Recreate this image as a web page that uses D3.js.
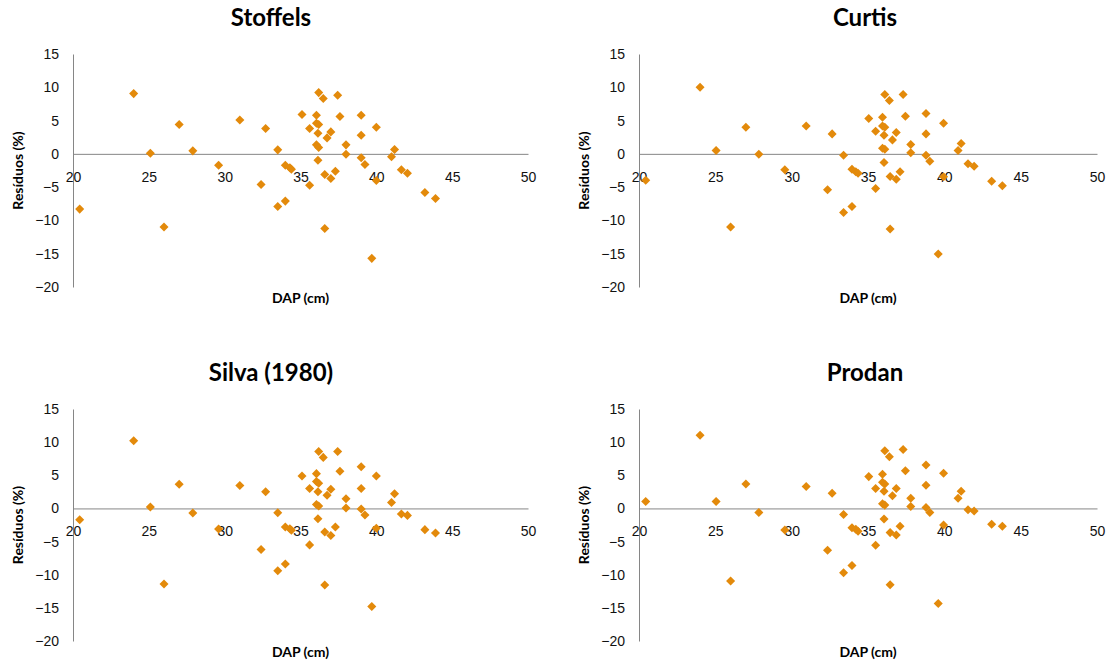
<!DOCTYPE html>
<html>
<head>
<meta charset="utf-8">
<script src="https://cdn.jsdelivr.net/npm/d3@7"></script>
<style>
  body { margin: 0; background: #fff; }
  svg { display: block; font-family: Lato, "Open Sans", sans-serif; }
</style>
</head>
<body>
<div class="container"></div>
<script>
// residuals (%) against DAP (cm)
const stoffelsDap = [20.44, 24.0, 25.1, 26.0, 27.0, 27.9, 29.6, 31.0, 32.4, 32.7, 33.5, 33.5, 34.0, 34.0, 34.3, 34.4, 35.1, 35.6, 35.6, 36.05, 36.05, 36.05, 36.15, 36.15, 36.2, 36.2, 36.2, 36.5, 36.6, 36.6, 36.75, 37.0, 37.0, 37.3, 37.45, 37.6, 38.0, 38.0, 39.0, 39.0, 39.0, 39.25, 39.7, 40.0, 40.0, 41.0, 41.2, 41.65, 42.05, 43.2, 43.9];
const stoffelsRes = [-8.3, 9.05, 0.1, -11.0, 4.4, 0.45, -1.7, 5.1, -4.6, 3.8, 0.6, -7.9, -1.7, -7.1, -2.1, -2.3, 5.9, 3.8, -4.7, 5.8, 4.6, 1.35, 3.1, -0.95, 4.4, 0.95, 9.2, 8.3, -3.1, -11.2, 2.4, 3.3, -3.7, -2.6, 8.8, 5.6, 1.35, -0.05, 5.8, 2.8, -0.6, -1.6, -15.7, 4.0, -4.0, -0.45, 0.65, -2.4, -2.9, -5.8, -6.7];

const curtisDap = [20.44, 24.0, 25.05, 26.0, 27.0, 27.85, 29.55, 30.95, 32.35, 32.65, 33.4, 33.4, 33.95, 33.95, 34.2, 34.35, 35.05, 35.5, 35.5, 35.95, 35.95, 36.1, 36.05, 35.95, 36.1, 36.05, 36.1, 36.4, 36.45, 36.45, 36.6, 36.85, 36.85, 37.1, 37.3, 37.45, 37.8, 37.8, 38.8, 38.8, 38.8, 39.05, 39.6, 39.95, 39.95, 40.9, 41.1, 41.55, 41.95, 43.1, 43.8];
const curtisRes = [-3.95, 10.0, 0.5, -11.0, 4.0, -0.05, -2.4, 4.2, -5.4, 3.0, -0.2, -8.8, -2.3, -7.9, -2.7, -2.9, 5.3, 3.4, -5.2, 5.5, 4.2, 4.0, 2.8, 0.85, 0.7, -1.3, 8.9, 8.0, -3.4, -11.3, 2.1, 3.2, -3.8, -2.7, 8.9, 5.65, 1.4, 0.15, 6.05, 3.0, -0.2, -1.1, -15.05, 4.6, -3.45, 0.5, 1.55, -1.5, -1.85, -4.1, -4.8];

const silvaDap = [20.44, 24.0, 25.1, 26.0, 27.0, 27.9, 29.6, 31.0, 32.4, 32.7, 33.5, 33.5, 34.0, 34.0, 34.3, 34.4, 35.1, 35.6, 35.6, 36.05, 36.05, 36.2, 36.15, 36.05, 36.2, 36.15, 36.2, 36.5, 36.6, 36.6, 36.75, 37.0, 37.0, 37.3, 37.45, 37.6, 38.0, 38.0, 39.0, 39.0, 39.0, 39.25, 39.7, 40.0, 40.0, 41.0, 41.2, 41.65, 42.05, 43.2, 43.9];
const silvaRes = [-1.7, 10.2, 0.2, -11.4, 3.65, -0.7, -3.1, 3.45, -6.2, 2.5, -0.65, -9.4, -2.8, -8.4, -3.05, -3.3, 4.9, 3.0, -5.5, 5.25, 4.05, 3.8, 2.5, 0.6, 0.35, -1.55, 8.6, 7.7, -3.55, -11.55, 2.0, 2.9, -4.1, -2.8, 8.6, 5.6, 1.45, 0.05, 6.3, 3.0, -0.1, -1.0, -14.8, 4.9, -3.0, 0.9, 2.2, -0.85, -1.05, -3.2, -3.7];

const prodanDap = [20.44, 24.0, 25.05, 26.0, 27.0, 27.85, 29.55, 30.95, 32.35, 32.65, 33.4, 33.4, 33.95, 33.95, 34.2, 34.35, 35.05, 35.5, 35.5, 35.95, 35.95, 36.1, 36.05, 35.95, 36.1, 36.05, 36.1, 36.4, 36.45, 36.45, 36.6, 36.85, 36.85, 37.1, 37.3, 37.45, 37.8, 37.8, 38.8, 38.8, 38.8, 39.05, 39.6, 39.95, 39.95, 40.9, 41.1, 41.55, 41.95, 43.1, 43.8];
const prodanRes = [1.05, 11.05, 1.05, -10.95, 3.7, -0.6, -3.25, 3.3, -6.3, 2.3, -0.9, -9.7, -2.9, -8.6, -3.15, -3.45, 4.8, 3.0, -5.55, 5.15, 3.95, 3.7, 2.6, 0.7, 0.5, -1.6, 8.7, 7.8, -3.65, -11.5, 1.9, 3.0, -4.0, -2.7, 8.9, 5.7, 1.55, 0.3, 6.55, 3.5, 0.15, -0.6, -14.35, 5.3, -2.5, 1.55, 2.6, -0.2, -0.4, -2.4, -2.7];

const titles = ["Stoffels", "Curtis", "Silva (1980)", "Prodan"];
const xTicks = [20, 25, 30, 35, 40, 45, 50];
const yTicks = [15, 10, 5, 0, -5, -10, -15, -20];

const panels = [
  { title: titles[0], dap: stoffelsDap, res: stoffelsRes, left: 73, right: 528, top: 54, bottom: 287, cx: 271 },
  { title: titles[1], dap: curtisDap, res: curtisRes, left: 639, right: 1097, top: 54, bottom: 287, cx: 865 },
  { title: titles[2], dap: silvaDap, res: silvaRes, left: 73, right: 528, top: 409, bottom: 641, cx: 271 },
  { title: titles[3], dap: prodanDap, res: prodanRes, left: 639, right: 1097, top: 409, bottom: 641, cx: 865 }
];

const svg = d3.select('.container')
  .append('svg')
  .attr('width', 1109)
  .attr('height', 662);

const diamond = d3.symbol().type(d3.symbolDiamond2).size(52);

panels.forEach(p => {
  const x = d3.scaleLinear().domain([20, 50]).range([p.left, p.right]);
  const y = d3.scaleLinear().domain([-20, 15]).range([p.bottom, p.top]);

  const g = svg.append('g');

  // title
  g.append('text')
    .attr('x', p.cx)
    .attr('y', p.top - 28)
    .attr('text-anchor', 'middle')
    .style('font-size', '24px')
    .style('font-weight', 'bold')
    .text(p.title);

  // y axis
  const yAxis = g.append('g')
    .attr('transform', `translate(${p.left},0)`)
    .call(d3.axisLeft(y).tickValues(yTicks).tickSize(0).tickPadding(14));
  yAxis.select('.domain').attr('stroke', '#868686');
  yAxis.selectAll('text').style('font-size', '14px').attr('fill', '#111');

  // x axis sits on zero
  const xAxis = g.append('g')
    .attr('transform', `translate(0,${y(0)})`)
    .call(d3.axisBottom(x).tickValues(xTicks).tickSize(0).tickPadding(18));
  xAxis.select('.domain').attr('stroke', '#868686');
  xAxis.selectAll('text').style('font-size', '14px').attr('fill', '#111');

  // axis titles
  g.append('text')
    .attr('x', (p.left + p.right) / 2)
    .attr('y', p.bottom + 16)
    .attr('text-anchor', 'middle')
    .style('font-size', '14px')
    .style('font-weight', 'bold')
    .text('DAP (cm)');

  g.append('text')
    .attr('transform', `translate(${p.left - 50},${(p.top + p.bottom) / 2}) rotate(-90)`)
    .attr('text-anchor', 'middle')
    .style('font-size', '14px')
    .style('font-weight', 'bold')
    .text('Resíduos (%)');

  // points
  g.selectAll('path.pt')
    .data(p.dap.map((d, i) => [d, p.res[i]]))
    .enter()
    .append('path')
    .attr('class', 'pt')
    .attr('d', diamond)
    .attr('transform', d => `translate(${x(d[0])},${y(d[1])})`)
    .attr('fill', '#E38A0B');
});
</script>
</body>
</html>
